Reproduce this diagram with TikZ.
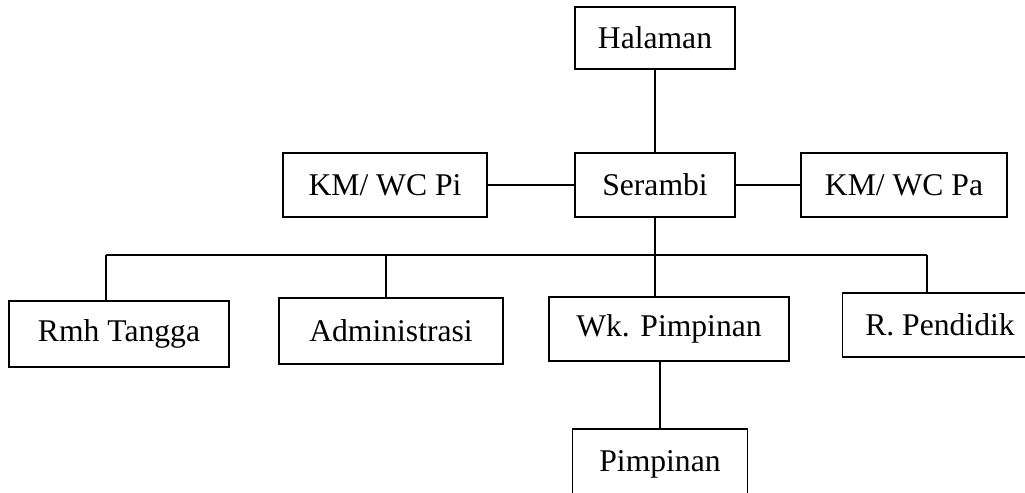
\documentclass[tikz,border=0pt]{standalone}
\usepackage{fontspec}
\setmainfont{Liberation Serif}
\begin{document}
\begin{tikzpicture}[x=0.02cm,y=-0.02cm,
    ruang/.style={draw, line width=0.8pt, minimum height=1.28cm, font=\fontsize{18}{22}\selectfont},
    every path/.style={line width=0.8pt}]
                \useasboundingbox (0,0) rectangle (1025,493);
                \node[ruang, minimum width=3.2cm, minimum height=1.24cm] (halaman) at (655,38) {Halaman};
                \node[ruang, minimum width=3.2cm] (serambi) at (655,185) {Serambi};
                \node[ruang, minimum width=4.08cm] (wcpi) at (385,185) {KM/ WC Pi};
                \node[ruang, minimum width=4.12cm] (wcpa) at (904,185) {KM/ WC Pa};
                \node[ruang, minimum width=4.4cm, minimum height=1.32cm] (rmh) at (119,334) {Rmh Tangga};
                \node[ruang, minimum width=4.48cm, minimum height=1.32cm] (admin) at (391,331) {Administrasi};
                \node[ruang, minimum width=4.8cm] (wakil) at (669,329) {Wk. Pimpinan};
                \node[ruang, minimum width=3.9cm] (pendidik) at (940,325) {R. Pendidik};
                \node[ruang, minimum width=3.5cm, minimum height=1.4cm] (pimpinan) at (660,464) {Pimpinan};
                \draw (halaman) -- (serambi);
                \draw (wcpi) -- (serambi) -- (wcpa);
                \draw (serambi.south) -- (serambi.south |- wakil.north);
                \foreach \x/\n in {106/rmh, 386/admin, 927/pendidik}
                {
                \coordinate (t\n) at (\x,255);
                \draw (t\n) -- (t\n |- \n.north);
                }
                \draw (trmh) -- (tpendidik);
                \draw (pimpinan.north) -- (pimpinan.north |- wakil.south);
            \end{tikzpicture}
\end{document}
